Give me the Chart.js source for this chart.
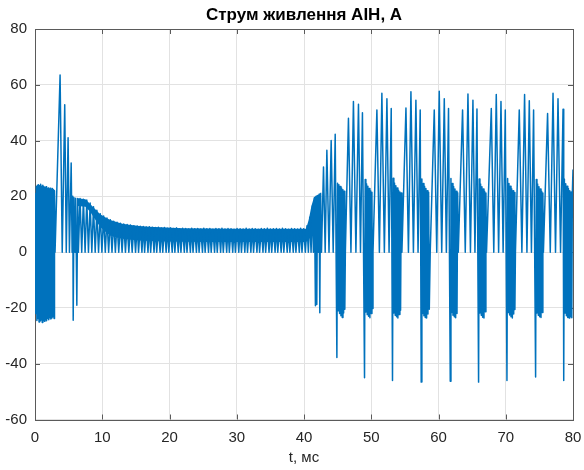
<!DOCTYPE html>
<html lang="uk">
<head>
    <meta charset="UTF-8">
    <title>Струм живлення АІН, А</title>
    <script src="https://cdn.jsdelivr.net/npm/chart.js"></script>
    <style>
        body {
    margin: 0;
    background-color: #FFF;
}
    </style>
</head>
<body>
    <canvas id="currentChart" width="584" height="470"></canvas>

    <script>
        // axis ticks
        const xTicks = [0, 10, 20, 30, 40, 50, 60, 70, 80];
        const yTicks = [-60, -40, -20, 0, 20, 40, 60, 80];

        // [t, мс ; I, A]
        // 0 - 3 ms: start burst
        const burstA = [
            [0, 0], [0.05, 21], [0.12, -22], [0.2, 23.5], [0.28, -24.5], [0.36, 24], [0.44, -23.8], [0.52, 24.2],
            [0.6, -25], [0.68, 23.8], [0.76, -24.6], [0.84, 24.3], [0.92, -24], [1.0, 23.6], [1.08, -25.2], [1.16, 24],
            [1.24, -24.4], [1.32, 23.5], [1.4, -24.8], [1.48, 23.2], [1.56, -24], [1.64, 23.4], [1.72, -24.6], [1.8, 22.8],
            [1.88, -23.8], [1.96, 23], [2.04, -24.2], [2.12, 22.6], [2.2, -23.5], [2.28, 22.9], [2.36, -24], [2.44, 22.5],
            [2.52, -23.6], [2.6, 22.8], [2.68, -23.2], [2.76, 22.4], [2.84, -23.8], [2.9, 22]
        ];
        // 3 - 6.4 ms: overshoot
        const startupA = [
            [2.98, 0], [3.73, 63.5], [4.05, 0], [4.42, 52.8], [4.65, 0], [4.92, 41], [5.12, 0], [5.38, 32],
            [5.52, 0], [5.62, 20], [5.68, -24.4], [5.8, 19.5], [5.95, 0], [6.05, 19.3], [6.22, -19], [6.35, 19.2]
        ];
        // 6.4 - 15 ms: decay
        const decayA = [
            [6.45, 0], [6.7, 19.2], [6.95, 0], [7.2, 19.0], [7.45, 0], [7.7, 18.7], [7.95, 0], [8.2, 17.6],
            [8.45, 0], [8.7, 16.3], [8.95, 0], [9.2, 15.0], [9.45, 0], [9.7, 13.8], [9.95, 0], [10.2, 13.0],
            [10.45, 0], [10.7, 12.2], [10.95, 0], [11.2, 11.6], [11.45, 0], [11.7, 11.1], [11.95, 0], [12.2, 10.7],
            [12.45, 0], [12.7, 10.4], [12.95, 0], [13.2, 10.1], [13.45, 0], [13.7, 9.9], [13.95, 0], [14.2, 9.7],
            [14.45, 0], [14.7, 9.5], [14.95, 0], [15.2, 9.4], [15.4, 0]
        ];
        // 15 - 40 ms: steady state
        const steadyA = [
            [15.65, 9.3], [15.9, 0], [16.1, 9.2], [16.3, 0], [16.55, 9.0], [16.8, 0], [17.0, 9.1], [17.2, 0],
            [17.45, 8.9], [17.7, 0], [17.9, 8.8], [18.1, 0], [18.35, 8.9], [18.6, 0], [18.8, 8.7], [19.0, 0],
            [19.25, 8.8], [19.5, 0], [19.7, 8.6], [19.9, 0], [20.15, 8.7], [20.4, 0], [20.6, 8.5], [20.8, 0],
            [21.05, 8.7], [21.3, 0], [21.5, 8.4], [21.7, 0], [21.95, 8.6], [22.2, 0], [22.4, 8.5], [22.6, 0],
            [22.85, 8.3], [23.1, 0], [23.3, 8.6], [23.5, 0], [23.75, 8.4], [24.0, 0], [24.2, 8.5], [24.4, 0],
            [24.65, 8.3], [24.9, 0], [25.1, 8.6], [25.3, 0], [25.55, 8.4], [25.8, 0], [26.0, 8.5], [26.2, 0],
            [26.45, 8.2], [26.7, 0], [26.9, 8.5], [27.1, 0], [27.35, 8.4], [27.6, 0], [27.8, 8.6], [28.0, 0],
            [28.25, 8.3], [28.5, 0], [28.7, 8.5], [28.9, 0], [29.15, 8.4], [29.4, 0], [29.6, 8.2], [29.8, 0],
            [30.05, 8.5], [30.3, 0], [30.5, 8.4], [30.7, 0], [30.95, 8.3], [31.2, 0], [31.4, 8.6], [31.6, 0],
            [31.85, 8.3], [32.1, 0], [32.3, 8.5], [32.5, 0], [32.75, 8.4], [33.0, 0], [33.2, 8.2], [33.4, 0],
            [33.65, 8.5], [33.9, 0], [34.1, 8.4], [34.3, 0], [34.55, 8.6], [34.8, 0], [35.0, 8.3], [35.2, 0],
            [35.45, 8.4], [35.7, 0], [35.9, 8.5], [36.1, 0], [36.35, 8.3], [36.6, 0], [36.8, 8.6], [37.0, 0],
            [37.25, 8.4], [37.5, 0], [37.7, 8.2], [37.9, 0], [38.15, 8.5], [38.4, 0], [38.6, 8.4], [38.8, 0],
            [39.05, 8.3], [39.3, 0], [39.5, 8.6], [39.7, 0], [39.95, 8.4], [40.2, 0]
        ];
        // 40 - 42.6 ms: load step
        const riseA = [
            [40.45, 9.5], [40.65, 0], [40.85, 12.5], [41.05, 0], [41.25, 16.5], [41.4, 0], [41.55, 19.5],
            [41.7, -19.2], [41.8, 20], [41.9, -18.8], [42.0, 20.3], [42.15, 0], [42.25, 20.8], [42.35, -21.7],
            [42.45, 21], [42.6, 0]
        ];
        // 42.6 - 80 ms: pulse groups and negative blocks
        const switchingA = [
            [42.9, 30.5], [43.15, 0], [43.4, 36.5], [43.72, 0], [44.04, 40], [44.34, 0], [44.64, 42.3], [44.89, -37.8],
            [44.99, 24.7], [45.09, -21], [45.19, 24.2], [45.29, -22], [45.39, 23.5], [45.49, -22.8], [45.59, 23],
            [45.69, -23.4], [45.79, 22.4], [45.89, -21.8], [45.99, 21.8], [46.07, -20.5], [46.15, 0],

            [46.61, 48], [46.98, 0], [47.35, 54], [47.72, 0], [48.1, 53], [48.4, 0], [48.69, 50], [49.0, -45],
            [49.1, 26], [49.2, -21.5], [49.3, 24.5], [49.4, -22.4], [49.5, 23.6], [49.6, -23], [49.7, 22.8],
            [49.8, -23.5], [49.9, 22], [50.0, -22], [50.1, 21.5], [50.18, -20.2], [50.26, 0],

            [50.84, 51], [51.21, 0], [51.58, 57], [51.95, 0], [52.33, 55], [52.65, 0], [52.97, 51.5], [53.16, -46],
            [53.26, 26.5], [53.36, -21.8], [53.46, 24.8], [53.56, -22.6], [53.66, 23.8], [53.76, -23.2], [53.86, 23],
            [53.96, -23.6], [54.06, 22.2], [54.16, -22.4], [54.26, 21.6], [54.36, -20.8], [54.46, 21.2], [54.56, 0],

            [55.16, 51.7], [55.53, 0], [55.9, 57.5], [56.27, 0], [56.64, 54.5], [56.96, 0], [57.28, 51], [57.43, -46.6],
            [57.53, 26.2], [57.63, -22], [57.73, 24.6], [57.83, -22.8], [57.93, 23.6], [58.03, -23.4], [58.13, 22.8],
            [58.23, -23.6], [58.33, 22], [58.43, -22.2], [58.53, 21.5], [58.63, -20.5], [58.77, 0],

            [59.37, 51], [59.74, 0], [60.11, 57.7], [60.48, 0], [60.86, 55], [61.17, 0], [61.49, 51.5], [61.75, -46.3],
            [61.85, 26.4], [61.95, -21.6], [62.05, 24.6], [62.15, -22.6], [62.25, 23.5], [62.35, -23.2], [62.45, 22.6],
            [62.55, -23.5], [62.65, 21.8], [62.75, -22], [62.85, 21.3], [62.94, 0],

            [63.58, 51], [63.98, 0], [64.38, 56.7], [64.75, 0], [65.12, 54.5], [65.42, 0], [65.72, 51.3], [65.96, -46.6],
            [66.06, 26.2], [66.16, -21.8], [66.26, 24.4], [66.36, -22.6], [66.46, 23.4], [66.56, -23.3], [66.66, 22.6],
            [66.76, -23.6], [66.86, 21.8], [66.96, -21.4], [67.05, 21.2], [67.14, 0],

            [67.85, 51.5], [68.22, 0], [68.59, 56.5], [68.94, 0], [69.29, 54], [69.61, 0], [69.93, 51], [70.18, -46],
            [70.28, 26.4], [70.38, -21.6], [70.48, 24.6], [70.58, -22.5], [70.68, 23.6], [70.78, -23.2], [70.88, 22.7],
            [70.98, -23.6], [71.08, 22], [71.18, -22.2], [71.28, 21.4], [71.36, -20.6], [71.44, 0],

            [72.01, 51], [72.4, 0], [72.8, 56.5], [73.15, 0], [73.5, 54.3], [73.82, 0], [74.14, 51], [74.44, -44.8],
            [74.54, 26], [74.64, -21.8], [74.74, 24.4], [74.84, -22.6], [74.94, 23.4], [75.04, -23.2], [75.14, 22.6],
            [75.24, -23.4], [75.34, 21.8], [75.44, -21.6], [75.52, 21.2], [75.6, 0],

            [76.22, 49.7], [76.62, 0], [77.03, 57], [77.4, 0], [77.77, 55], [78.15, 0], [78.52, 51.2], [78.62, -46],
            [78.72, 26.2], [78.82, -21.8], [78.92, 24.5], [79.02, -22.8], [79.12, 23.6], [79.22, -23.4], [79.32, 22.8],
            [79.42, -23.6], [79.52, 22], [79.62, -23.2], [79.72, 21.6], [79.82, -23.5], [79.9, 21], [80.0, 29.6]
        ];

        // dense ripple band (too fine to trace): upper and lower edge
        const rippleT   = [6.3, 7.5, 8.2, 9.0, 9.7, 10.5, 11.2, 12.0, 13.0, 14.0, 15.5, 17.0, 19.5, 22.0, 26.0, 30.0, 34.0, 38.0, 40.3, 40.7, 41.1, 41.5, 42.1, 42.6];
        const rippleTop = [19.3, 19.0, 17.3, 15.3, 13.6, 12.4, 11.5, 10.9, 10.2, 9.8, 9.4, 9.1, 8.8, 8.6, 8.5, 8.4, 8.4, 8.4, 8.4, 11.5, 16.5, 19.8, 20.5, 21.5];
        const rippleLow = [16.5, 16.3, 14.5, 11.5, 9.0, 7.2, 6.0, 5.3, 4.8, 4.5, 4.2, 4.0, 3.8, 3.7, 3.6, 3.6, 3.6, 3.6, 3.6, 4.5, 6.0, 7.0, 7.5, 8.0];

        const blue = '#0072BD';
        const toXY = arr => arr.map(([x, y]) => ({x, y}));
        const current = [].concat(burstA, startupA, decayA, steadyA, riseA, switchingA);

        Chart.defaults.font.family = '"Liberation Sans", Arial, sans-serif';
        Chart.defaults.color = '#262626';

        // box round the axes, inner ticks, title over the plot
        const matlabAxes = {
            id: 'matlabAxes',
            beforeDatasetsDraw(chart) {
                const {ctx, chartArea: a, scales: {x, y}} = chart;
                ctx.save();
                ctx.strokeStyle = '#5a5a5a';
                ctx.lineWidth = 1;
                ctx.beginPath();
                xTicks.forEach(v => {
                    const px = Math.round(x.getPixelForValue(v)) + 0.5;
                    ctx.moveTo(px, a.bottom); ctx.lineTo(px, a.bottom - 5);
                    ctx.moveTo(px, a.top); ctx.lineTo(px, a.top + 5);
                });
                yTicks.forEach(v => {
                    const py = Math.round(y.getPixelForValue(v)) + 0.5;
                    ctx.moveTo(a.left, py); ctx.lineTo(a.left + 5, py);
                    ctx.moveTo(a.right, py); ctx.lineTo(a.right - 5, py);
                });
                ctx.stroke();
                ctx.strokeRect(Math.round(a.left) + 0.5, Math.round(a.top) + 0.5,
                    Math.round(a.right) - Math.round(a.left), Math.round(a.bottom) - Math.round(a.top));
                ctx.restore();
            },
            afterDraw(chart) {
                const {ctx, chartArea: a} = chart;
                ctx.save();
                ctx.font = 'bold 17px "Liberation Sans", Arial, sans-serif';
                ctx.fillStyle = '#000';
                ctx.textAlign = 'center';
                ctx.textBaseline = 'middle';
                ctx.fillText('Струм живлення АІН, А', (a.left + a.right) / 2, 15);
                ctx.restore();
            }
        };

        const ctx = document.getElementById('currentChart').getContext('2d');
        new Chart(ctx, {
            type: 'line',
            data: {
                datasets: [{
                    data: toXY(current),
                    borderColor: blue,
                    borderWidth: 1.5,
                    borderJoinStyle: 'round',
                    pointRadius: 0,
                    tension: 0,
                    fill: false
                }, {
                    data: rippleT.map((t, i) => ({x: t, y: rippleTop[i]})),
                    borderWidth: 0,
                    borderColor: blue,
                    backgroundColor: blue,
                    pointRadius: 0,
                    fill: '+1'
                }, {
                    data: rippleT.map((t, i) => ({x: t, y: rippleLow[i]})),
                    borderWidth: 0,
                    borderColor: blue,
                    pointRadius: 0,
                    fill: false
                }]
            },
            options: {
                responsive: false,
                animation: false,
                layout: { padding: { top: 29, right: 11, left: 0, bottom: 0 } },
                plugins: {
                    legend: { display: false },
                    tooltip: { enabled: false }
                },
                scales: {
                    x: {
                        type: 'linear',
                        min: 0,
                        max: 80,
                        afterFit: s => { s.height = 50.5; s.paddingLeft = 0; s.paddingRight = 0; },
                        afterBuildTicks: s => { s.ticks = xTicks.map(v => ({value: v})); },
                        ticks: { font: { size: 15 }, padding: 9, maxRotation: 0 },
                        grid: { color: '#e2e2e2', drawTicks: false },
                        border: { display: false },
                        title: { display: true, text: 't, мс', font: { size: 15 }, padding: { top: 0, bottom: 3 } }
                    },
                    y: {
                        min: -60,
                        max: 80,
                        afterFit: s => { s.width = 35; s.paddingTop = 0; s.paddingBottom = 0; },
                        afterBuildTicks: s => { s.ticks = yTicks.map(v => ({value: v})); },
                        ticks: { font: { size: 15 }, padding: 8 },
                        grid: { color: '#e2e2e2', drawTicks: false },
                        border: { display: false }
                    }
                }
            },
            plugins: [matlabAxes]
        });
    </script>
</body>
</html>
